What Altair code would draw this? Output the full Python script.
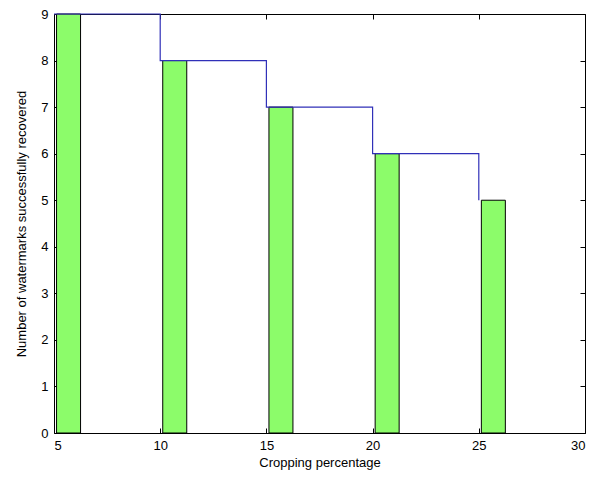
import altair as alt
import pandas as pd

crop = [5, 10, 15, 20, 25]
recovered = [9, 8, 7, 6, 5]
x_ticks = [5, 10, 15, 20, 25, 30]
y_ticks = [0, 1, 2, 3, 4, 5, 6, 7, 8, 9]

W, H = 531, 419
bar_start, bar_end = 0.12, 1.25

df = pd.DataFrame({"crop": crop, "recovered": recovered})
df["x0"] = df["crop"] + bar_start
df["x1"] = df["crop"] + bar_end

xs = alt.Scale(domain=[5, 30], nice=False, zero=False)
ys = alt.Scale(domain=[0, 9], nice=False)
FONT = "Liberation Sans"

lab_common = dict(labelFont=FONT, labelFontSize=13, labelColor="black",
                  titleFont=FONT, titleFontSize=13, titleColor="black",
                  titleFontWeight="normal", grid=False, domain=False)

x_lab = alt.Axis(orient="bottom", values=x_ticks, tickSize=0, labelPadding=6,
                 title="Cropping percentage", titlePadding=4, **lab_common)
y_lab = alt.Axis(orient="left", values=y_ticks, tickSize=0, labelPadding=6,
                 title="Number of watermarks successfully recovered",
                 titlePadding=12, **lab_common)

tick_common = dict(labels=False, title=None, grid=False, domain=False,
                   tickSize=5, tickColor="black", tickWidth=1)

x_in_bottom = alt.Axis(orient="top", offset=-H, values=x_ticks, **tick_common)
y_in_left = alt.Axis(orient="right", offset=-W, values=y_ticks, **tick_common)
x_in_top = alt.Axis(orient="bottom", offset=-H, values=x_ticks, **tick_common)
y_in_right = alt.Axis(orient="left", offset=-W, values=y_ticks, **tick_common)

base = alt.Chart(df)

bars = base.mark_rect(fill="#8cfc6a", stroke="black", strokeWidth=1).encode(
    x=alt.X("x0:Q", scale=xs, axis=x_lab),
    x2="x1:Q",
    y=alt.Y("recovered:Q", scale=ys, axis=y_lab),
    y2=alt.datum(0),
)

line = base.mark_line(color="#3030b8", strokeWidth=1.2, interpolate="step-after").encode(
    x=alt.X("crop:Q", scale=xs, axis=x_in_bottom),
    y=alt.Y("recovered:Q", scale=ys, axis=y_in_left),
)

ghost = base.mark_point(opacity=0).encode(
    x=alt.X("crop:Q", scale=xs, axis=x_in_top),
    y=alt.Y("recovered:Q", scale=ys, axis=y_in_right),
)

chart = alt.layer(bars, line, ghost).resolve_axis(
    x="independent", y="independent"
).properties(
    width=W, height=H,
    autosize=alt.AutoSizeParams(type="none"),
    padding={"left": 54, "top": 14, "right": 21, "bottom": 46},
    background="white",
).configure_view(stroke="black", strokeWidth=1)

chart.save("out.html", embed_options={"renderer": "svg", "actions": False})
